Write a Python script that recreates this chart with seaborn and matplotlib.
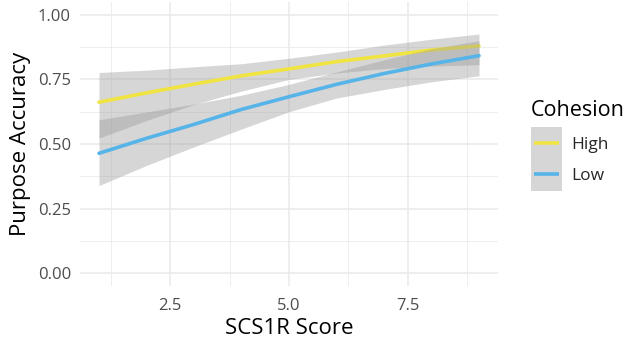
import matplotlib
matplotlib.use("Agg")
import matplotlib.pyplot as plt
import seaborn as sns
import pandas as pd
import numpy as np
from matplotlib.patches import Rectangle
from matplotlib.lines import Line2D
from matplotlib.legend_handler import HandlerBase
from matplotlib.ticker import FixedLocator

# ---- data ----
scs1r = [1, 2, 3, 4, 5, 6, 7, 8, 9]
high_fit = [0.662, 0.698, 0.732, 0.764, 0.791, 0.819, 0.841, 0.864, 0.880]
high_lo = [0.523, 0.591, 0.653, 0.705, 0.750, 0.775, 0.792, 0.802, 0.807]
high_hi = [0.777, 0.786, 0.799, 0.811, 0.832, 0.856, 0.883, 0.906, 0.926]
low_fit = [0.464, 0.522, 0.576, 0.634, 0.683, 0.731, 0.773, 0.810, 0.842]
low_lo = [0.339, 0.417, 0.489, 0.558, 0.625, 0.678, 0.711, 0.741, 0.764]
low_hi = [0.594, 0.624, 0.655, 0.689, 0.731, 0.779, 0.826, 0.869, 0.900]
groups = ["High", "Low"]
colors = ["#F0E442", "#56B4E9"]
x_ticks = [2.5, 5.0, 7.5]
x_labels = ["2.5", "5.0", "7.5"]
y_ticks = [0.00, 0.25, 0.50, 0.75, 1.00]
y_labels = ["0.00", "0.25", "0.50", "0.75", "1.00"]

df = pd.DataFrame({
    "SCS1R Score": scs1r * 2,
    "Purpose Accuracy": high_fit + low_fit,
    "lo": high_lo + low_lo,
    "hi": high_hi + low_hi,
    "Cohesion": ["High"] * len(scs1r) + ["Low"] * len(scs1r),
})

sns.set_theme(style="white")
plt.rcParams["font.family"] = ["Open Sans", "DejaVu Sans"]

fig = plt.figure(figsize=(6.26, 3.39), dpi=100)
ax = fig.add_axes([80 / 626, 1 - 286 / 339, (498 - 80) / 626, (286 - 2) / 339])
ax.set_facecolor("white")

band_color = "#999999"
key_fill = "#D6D6D6"
for i, (g, c) in enumerate(zip(groups, colors)):
    sub = df[df["Cohesion"] == g]
    ax.fill_between(sub["SCS1R Score"], sub["lo"], sub["hi"], color=band_color,
                    alpha=0.4, linewidth=0, zorder=2 + 2 * i)
    sns.lineplot(data=sub, x="SCS1R Score", y="Purpose Accuracy", color=c,
                 linewidth=2.6, ax=ax, zorder=3 + 2 * i, legend=False)

ax.set_xlim(0.6, 9.4)
ax.set_ylim(-0.05, 1.05)
ax.xaxis.set_major_locator(FixedLocator(x_ticks))
ax.yaxis.set_major_locator(FixedLocator(y_ticks))
ax.xaxis.set_minor_locator(FixedLocator([1.25, 3.75, 6.25, 8.75]))
ax.yaxis.set_minor_locator(FixedLocator([0.125, 0.375, 0.625, 0.875]))
ax.set_xticklabels(x_labels)
ax.set_yticklabels(y_labels)
ax.grid(True, which="major", color="#EBEBEB", linewidth=1.2, zorder=0)
ax.grid(True, which="minor", color="#EBEBEB", linewidth=0.6, zorder=0)
ax.set_axisbelow(True)
for s in ax.spines.values():
    s.set_visible(False)
ax.tick_params(axis="both", which="both", length=0, labelsize=12, labelcolor="#4D4D4D")
ax.tick_params(axis="y", pad=6.5)
ax.tick_params(axis="x", pad=8.5)
ax.set_xlabel("SCS1R Score", fontsize=16, color="black", labelpad=3)
ax.set_ylabel("Purpose Accuracy", fontsize=16, color="black", labelpad=5)


class KeyHandler(HandlerBase):
    def create_artists(self, legend, orig_handle, xdescent, ydescent, width,
                       height, fontsize, trans):
        rect = Rectangle((-xdescent, -ydescent - 0.6), width, height + 1.2,
                         facecolor=key_fill, edgecolor="none", transform=trans)
        yc = -ydescent + height / 2
        line = Line2D([-xdescent + 0.09 * width, -xdescent + 0.91 * width], [yc, yc],
                      color=orig_handle.get_color(), linewidth=2.6,
                      solid_capstyle="butt", transform=trans)
        return [rect, line]


handles = [Line2D([], [], color=c) for c in colors]
fs = 12.5
key_pt = 22.3
hh = (key_pt / fs - 0.245) / 0.65
leg = fig.legend(handles, groups, loc="upper left",
                 bbox_to_anchor=(531 / 626, 1 - 128 / 339), frameon=False,
                 fontsize=fs, handlelength=key_pt / fs, handleheight=hh,
                 labelspacing=0.0, handletextpad=0.55, borderpad=0, borderaxespad=0,
                 handler_map={Line2D: KeyHandler()})
fig.text(531 / 626, 1 - 116 / 339, "Cohesion", fontsize=15.5, color="black",
         ha="left", va="baseline")

fig.savefig("out.png", dpi=100)
